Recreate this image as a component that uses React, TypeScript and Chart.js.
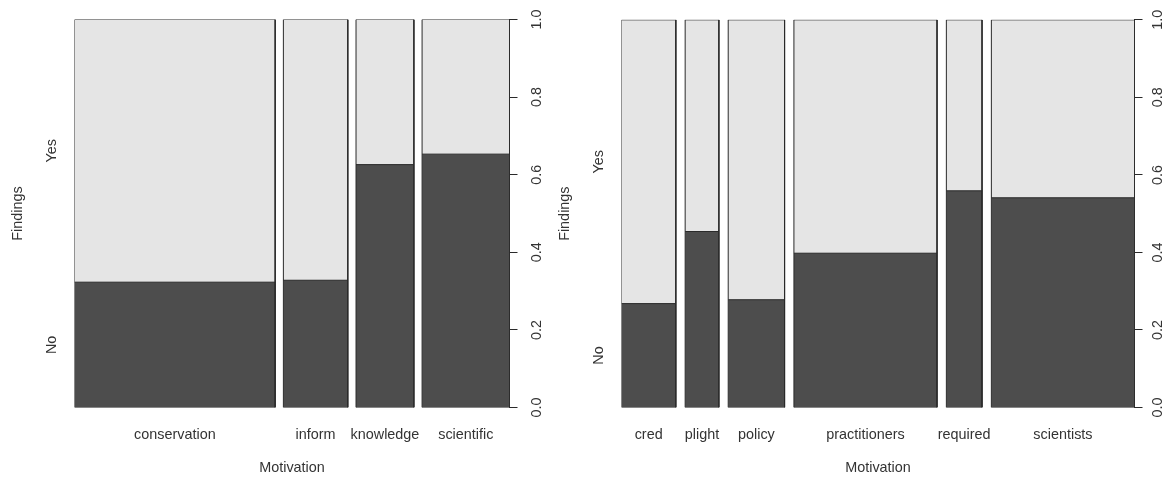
import React, { useEffect, useRef } from 'react';
import { Chart, registerables } from 'chart.js';

Chart.register(...registerables);

// ---- data ----
const LEFT_CATEGORIES = ['conservation', 'inform', 'knowledge', 'scientific'];
const LEFT_WIDTHS = [0.489, 0.157, 0.141, 0.213];
const LEFT_NO = [0.323, 0.328, 0.626, 0.653];

const RIGHT_CATEGORIES = ['cred', 'plight', 'policy', 'practitioners', 'required', 'scientists'];
const RIGHT_WIDTHS = [0.1165, 0.0723, 0.1209, 0.3069, 0.0765, 0.3069];
const RIGHT_NO = [0.268, 0.454, 0.278, 0.398, 0.559, 0.541];

const Y_LEVELS = ['No', 'Yes'];
const Y_TICKS = [0, 0.2, 0.4, 0.6, 0.8, 1.0];
const Y_TICK_LABELS = ['0.0', '0.2', '0.4', '0.6', '0.8', '1.0'];
const GAP = 0.02;

const X_TITLE = 'Motivation';
const Y_TITLE = 'Findings';

// ---- styles ----
const FONT = { family: '"Liberation Sans", Arial, Helvetica, sans-serif', size: 14.4 };
const TEXT = '#333333';
const NO_COLOR = '#4D4D4D';
const YES_COLOR = '#E5E5E5';
const EDGE = '#2a2a2a';

type Panel = {
  cats: string[];
  widths: number[];
  no: number[];
  width: number;
  plotLeft: number;
  plotRight: number;
  titlePad: number;
  levelPad: number;
  tickPad: number;
};

function buildDatasets(widths: number[], no: number[]) {
  const ds: any[] = [];
  const common = {
    borderColor: EDGE,
    pointRadius: 0,
    pointHoverRadius: 0,
    tension: 0,
    xAxisID: 'x',
    yAxisID: 'y',
  };
  let x0 = 0;
  widths.forEach((w, i) => {
    const x1 = x0 + w;
    const f = no[i];
    // light "Yes" segment (full column, covered below by "No")
    ds.push({
      ...common,
      borderWidth: 0,
      data: [
        { x: x0, y: 0 },
        { x: x0, y: 1 },
        { x: x1, y: 1 },
        { x: x1, y: 0 },
      ],
      backgroundColor: YES_COLOR,
      fill: 'origin',
      order: 4,
    });
    // dark "No" segment
    ds.push({
      ...common,
      borderWidth: 0,
      data: [
        { x: x0, y: 0 },
        { x: x0, y: f },
        { x: x1, y: f },
        { x: x1, y: 0 },
      ],
      backgroundColor: NO_COLOR,
      fill: 'origin',
      order: 3,
    });
    // outline of the column
    ds.push({
      ...common,
      borderWidth: 1,
      data: [
        { x: x0, y: 0 },
        { x: x0, y: 1 },
        { x: x1, y: 1 },
        { x: x1, y: 0 },
        { x: x0, y: 0 },
      ],
      fill: false,
      order: 2,
    });
    // boundary between No and Yes
    ds.push({
      ...common,
      borderWidth: 1,
      data: [
        { x: x0, y: f },
        { x: x1, y: f },
      ],
      fill: false,
      order: 1,
    });
    x0 = x1 + GAP;
  });
  return ds;
}

function centers(widths: number[]) {
  const c: number[] = [];
  let x0 = 0;
  widths.forEach((w) => {
    c.push(x0 + w / 2);
    x0 += w + GAP;
  });
  return c;
}

function SpinePanel({ p, left }: { p: Panel; left: number }) {
  const ref = useRef<HTMLCanvasElement | null>(null);
  useEffect(() => {
    if (!ref.current) return;
    const xMax = p.widths.reduce((a, b) => a + b, 0) + GAP * (p.widths.length - 1);
    const cs = centers(p.widths);
    const chart = new Chart(ref.current, {
      type: 'line',
      data: { datasets: buildDatasets(p.widths, p.no) },
      options: {
        animation: false,
        responsive: false,
        devicePixelRatio: 1,
        events: [],
        layout: { padding: { top: 19.5, left: 0, right: 0, bottom: 0 } },
        plugins: { legend: { display: false }, tooltip: { enabled: false } },
        scales: {
          x: {
            type: 'linear',
            position: 'bottom',
            min: 0,
            max: xMax,
            afterBuildTicks: (s: any) => {
              s.ticks = cs.map((v) => ({ value: v }));
            },
            afterFit: (s: any) => {
              s.height = 73.5;
            },
            grid: { display: false, drawTicks: false, tickLength: 0 },
            border: { display: false },
            ticks: {
              autoSkip: false,
              minRotation: 0,
              maxRotation: 0,
              padding: 18.7,
              color: TEXT,
              font: FONT,
              callback: (_v: any, i: number) => p.cats[i],
            },
            title: {
              display: true,
              text: X_TITLE,
              color: TEXT,
              font: FONT,
              padding: { top: 0, bottom: 4.4 },
            },
          },
          yl: {
            type: 'linear',
            position: 'left',
            min: 0,
            max: 1,
            afterBuildTicks: (s: any) => {
              const f = p.no[0];
              s.ticks = [{ value: f / 2 }, { value: (1 + f) / 2 }];
            },
            afterFit: (s: any) => {
              s.width = p.plotLeft;
            },
            grid: { display: false, drawTicks: false, tickLength: 0 },
            border: { display: false },
            ticks: {
              autoSkip: false,
              minRotation: 90,
              maxRotation: 90,
              crossAlign: 'center',
              padding: p.levelPad,
              color: TEXT,
              font: FONT,
              callback: (_v: any, i: number) => Y_LEVELS[i],
            },
            title: {
              display: true,
              text: Y_TITLE,
              color: TEXT,
              font: FONT,
              padding: { top: p.titlePad, bottom: 0 },
            },
          },
          y: {
            type: 'linear',
            position: 'right',
            min: 0,
            max: 1,
            afterBuildTicks: (s: any) => {
              s.ticks = Y_TICKS.map((v) => ({ value: v }));
            },
            afterFit: (s: any) => {
              s.width = p.width - p.plotRight;
            },
            grid: {
              display: true,
              drawOnChartArea: false,
              drawTicks: true,
              tickLength: 8,
              color: EDGE,
              lineWidth: 1,
            },
            border: { display: true, color: EDGE, width: 1 },
            ticks: {
              autoSkip: false,
              minRotation: 90,
              maxRotation: 90,
              crossAlign: 'center',
              padding: p.tickPad,
              color: TEXT,
              font: FONT,
              callback: (_v: any, i: number) => Y_TICK_LABELS[i],
            },
          },
        },
      } as any,
    });
    return () => chart.destroy();
  }, []);
  return (
    <canvas
      ref={ref}
      width={p.width}
      height={481}
      style={{ position: 'absolute', left, top: 0, width: p.width, height: 481 }}
    />
  );
}

const LEFT_PANEL: Panel = {
  cats: LEFT_CATEGORIES,
  widths: LEFT_WIDTHS,
  no: LEFT_NO,
  width: 550,
  plotLeft: 74.5,
  plotRight: 509.5,
  titlePad: 9.2,
  levelPad: 10.7,
  tickPad: 9.7,
};

const RIGHT_PANEL: Panel = {
  cats: RIGHT_CATEGORIES,
  widths: RIGHT_WIDTHS,
  no: RIGHT_NO,
  width: 626,
  plotLeft: 71.5,
  plotRight: 584.5,
  titlePad: 6.4,
  levelPad: 11.2,
  tickPad: 6,
};

export default function App() {
  return (
    <div style={{ position: 'absolute', left: 0, top: 0, width: 1176, height: 481, background: '#fff' }}>
      <SpinePanel p={LEFT_PANEL} left={0} />
      <SpinePanel p={RIGHT_PANEL} left={550} />
    </div>
  );
}
